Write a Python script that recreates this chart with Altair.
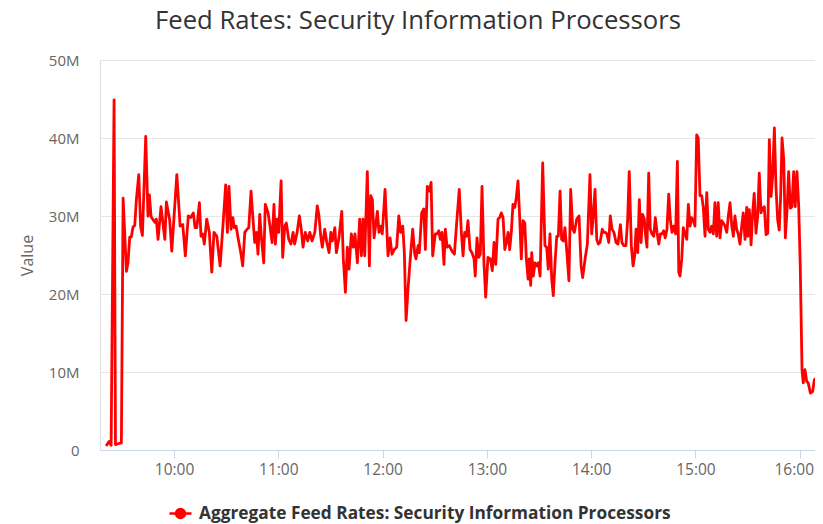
import altair as alt
import pandas as pd

title_text = "Feed Rates: Security Information Processors"
series_name = "Aggregate Feed Rates: Security Information Processors"
y_title = "Value"

# minutes after 09:00
minutes = [
    20.9, 22.6, 23.8, 25.5, 26.3, 27.8, 29.7, 30.7, 32.6, 33.5, 34.5, 35.4, 36.4, 37.4, 38.3, 39.7, 40.8, 41.8, 43.7, 45.0, 45.8, 46.8, 48.9, 49.8, 50.8, 52.5, 54.7, 55.6, 57.5,
    58.7, 61.6, 63.5, 65.0, 66.5, 68.2, 69.6, 71.1, 72.1, 73.1, 74.6, 75.5, 76.5, 77.4, 78.8, 80.3, 81.7, 83.0, 84.6, 86.5, 88.4, 89.7, 90.7, 91.6, 92.8, 93.8, 94.7, 95.7, 97.0, 98.4, 99.5,
    100.7, 102.0, 103.0, 104.3, 105.3, 106.4, 107.4, 108.3, 109.3, 110.2, 111.6, 112.5, 114.1, 115.2, 116.4, 117.5, 118.3, 119.3, 120.2, 121.6, 122.5, 123.7, 124.6, 126.0, 127.3, 128.5, 129.4, 130.8, 132.1, 133.2, 134.2, 135.5, 136.9, 138.1, 139.4, 141.0,
    142.4, 143.4, 144.4, 145.3, 146.7, 147.9, 149.2, 150.2, 151.1, 152.5, 153.4, 154.9, 156.5, 157.4, 158.6, 159.7, 160.7, 162.0, 163.2, 164.1, 165.5, 166.8, 167.8, 168.7, 169.7, 171.2, 172.4, 173.2, 174.1, 175.1, 177.0, 177.9, 178.9, 179.8, 181.4, 183.1,
    184.3, 185.4, 186.7, 188.1, 189.3, 190.4, 191.6, 192.5, 193.5, 194.6, 195.9, 197.3, 198.5, 199.2, 200.4, 201.1, 202.5, 203.7, 204.6, 205.7, 206.9, 207.9, 208.8, 210.3, 211.3, 212.3, 213.2, 214.2, 215.3, 216.1, 217.1, 218.4, 219.9, 221.3, 222.6, 224.1,
    225.3, 226.3, 227.2, 228.2, 229.1, 230.3, 231.4, 232.6, 233.3, 234.3, 235.3, 236.2, 237.2, 238.3, 239.3, 240.6, 242.0, 243.1, 244.1, 245.1, 246.4, 247.4, 248.3, 249.3, 250.3, 251.2, 252.2, 253.1, 254.1, 255.0, 256.0, 256.9, 257.9, 258.9, 259.8, 260.8, 261.8, 262.7, 263.7, 264.4, 265.2,
    265.8, 266.7, 267.7, 268.7, 269.6, 270.6, 272.1, 273.4, 274.4, 275.3, 276.3, 277.3, 278.2, 279.2, 280.2, 281.1, 282.1, 283.0, 284.0, 284.9, 285.9, 287.2, 288.2, 289.4, 290.3, 291.7, 293.0, 294.2, 295.1, 296.5, 297.8, 299.3, 300.3, 301.2, 302.2, 303.2, 304.1, 305.1, 306.4,
    307.2, 308.1, 309.1, 310.1, 311.0, 312.0, 313.1, 314.3, 315.4, 316.8, 317.7, 318.7, 320.0, 321.0, 321.9, 323.1, 324.1, 325.0, 325.8, 326.8, 327.7, 328.7, 329.6, 330.6, 331.1, 332.1, 333.1, 334.0, 335.0, 336.0, 336.9, 337.9, 338.9, 339.8, 340.8, 341.7, 342.6, 343.6, 344.6, 345.5, 346.5, 347.5,
    348.6, 349.6, 350.4, 351.1, 352.1, 353.0, 354.0, 355.0, 355.9, 356.9, 357.8, 358.8, 359.7, 360.7, 361.6, 362.6, 363.6, 364.5, 365.5, 366.5, 367.4, 368.4, 369.3, 370.3, 371.2, 372.2, 373.1, 374.1, 375.1, 376.0, 377.0, 378.0, 378.9, 379.9, 380.9, 381.8, 382.7, 383.7, 384.6, 385.6, 386.6, 387.5, 388.5, 389.5,
    390.1, 391.0, 392.0, 392.9, 393.8, 394.8, 395.8, 396.7, 397.7, 398.7, 399.6, 400.6, 401.6, 402.5, 403.5, 404.4, 405.4, 406.3, 407.3, 408.2, 409.0, 409.8, 410.8, 411.7, 412.7, 413.6, 414.6, 415.5, 416.5, 417.4, 418.4, 419.4, 420.3, 421.3, 422.0, 423.0, 424.0, 424.9, 426.1, 427.4, 428.4, 429.4,
]

# values in millions
values_m = [
    0.5, 1.1, 0.6, 44.9, 0.7, 0.8, 0.9, 32.3, 22.9, 24.0, 27.3, 27.3, 28.6, 28.8, 32.0, 35.3, 28.6, 27.5, 40.2, 30.0, 32.7, 29.9, 29.2, 29.6, 27.0, 31.2, 27.0, 31.8, 29.5,
    25.5, 35.3, 28.7, 28.9, 24.9, 30.0, 29.8, 30.4, 28.5, 28.5, 31.7, 27.4, 27.7, 26.4, 29.6, 27.9, 22.8, 27.9, 27.4, 23.6, 29.6, 34.0, 27.9, 33.8, 28.3, 29.8, 28.5, 28.7, 27.0, 25.3, 23.6,
    27.9, 28.3, 28.5, 33.2, 30.0, 26.6, 27.9, 25.1, 30.2, 27.4, 24.0, 31.5, 30.4, 28.7, 26.6, 31.5, 26.4, 29.6, 27.9, 34.5, 24.7, 28.7, 29.1, 27.0, 26.4, 27.9, 26.4, 27.9, 30.0, 28.3, 26.0, 27.9, 26.8, 27.9, 26.8, 27.9,
    31.3, 30.0, 27.4, 26.0, 28.3, 26.6, 25.3, 27.9, 26.8, 28.5, 25.3, 27.2, 30.6, 24.5, 20.2, 26.0, 23.2, 27.7, 26.0, 27.7, 24.0, 29.6, 24.9, 29.6, 24.9, 35.7, 23.6, 32.6, 32.1, 27.2, 30.6, 27.9, 28.7, 27.7, 33.4, 24.9,
    27.2, 25.1, 25.7, 26.0, 30.0, 27.9, 28.7, 25.3, 16.6, 20.6, 24.5, 28.3, 25.1, 24.5, 26.2, 25.3, 30.4, 30.9, 25.7, 33.8, 33.2, 34.3, 24.9, 27.7, 27.7, 28.1, 27.0, 27.9, 23.8, 28.3, 26.0, 26.2, 25.5, 25.1, 29.1, 33.4,
    27.9, 24.9, 27.9, 27.4, 29.4, 25.7, 25.3, 24.5, 22.3, 27.2, 24.7, 25.1, 33.8, 24.0, 19.6, 24.7, 24.5, 23.0, 26.6, 23.8, 29.6, 29.8, 30.4, 29.8, 25.7, 26.6, 27.9, 25.7, 28.1, 31.5, 31.1, 32.3, 34.5, 29.6, 24.5, 29.4, 29.1, 24.5, 21.9, 24.5, 21.1,
    25.3, 22.3, 24.0, 23.6, 24.0, 22.3, 36.8, 26.2, 26.0, 23.2, 27.7, 21.9, 19.8, 24.0, 27.4, 27.4, 33.2, 27.0, 26.8, 28.5, 25.7, 21.7, 33.4, 28.3, 27.9, 29.6, 30.0, 23.6, 22.1, 24.5, 26.4, 35.3, 27.7, 30.0, 33.4, 27.0, 26.4, 26.6, 28.3,
    27.9, 27.9, 27.7, 26.6, 30.0, 28.3, 27.9, 26.6, 26.4, 28.9, 26.6, 26.2, 26.2, 29.6, 35.7, 26.2, 23.6, 24.9, 28.3, 25.3, 32.1, 26.6, 30.2, 29.6, 27.9, 26.0, 35.5, 28.3, 27.7, 27.4, 29.8, 27.9, 26.4, 27.7, 27.7, 28.1, 27.2, 28.3, 32.8, 29.6, 27.9, 28.7,
    27.7, 37.0, 22.8, 22.3, 24.5, 28.5, 27.7, 27.0, 31.5, 28.7, 29.8, 29.4, 28.7, 40.4, 40.0, 32.6, 32.6, 31.1, 27.4, 33.0, 28.3, 27.9, 28.7, 27.7, 31.7, 27.4, 31.7, 27.2, 29.4, 29.1, 28.7, 27.9, 30.0, 31.7, 28.7, 27.4, 30.0, 28.3, 27.7, 26.4, 28.7, 30.4, 27.0, 31.1,
    27.4, 30.8, 26.3, 30.4, 32.9, 27.8, 30.0, 35.5, 30.4, 31.0, 31.2, 27.6, 27.8, 39.8, 32.5, 35.1, 41.3, 33.8, 29.5, 28.2, 32.5, 40.0, 37.2, 27.2, 30.8, 35.7, 31.0, 31.2, 35.7, 31.2, 35.7, 31.2, 23.5, 10.3, 8.6, 10.3, 8.8, 8.6, 7.3, 7.5, 9.0, 9.2,
]

y_ticks_m = [0, 10, 20, 30, 40, 50]
x_tick_hours = [10, 11, 12, 13, 14, 15, 16]

assert len(minutes) == len(values_m)

base = pd.Timestamp("2024-01-02 09:00:00")
df = pd.DataFrame({
    "time": [(base + pd.Timedelta(seconds=round(m * 60))).strftime("%Y-%m-%dT%H:%M:%S") for m in minutes],
    "value": [v * 1e6 for v in values_m],
    "series": [series_name] * len(minutes),
})

FONT = "Open Sans"

def dt(h, mi=0, s=0):
    return alt.DateTime(year=2024, month=1, date=2, hours=h, minutes=mi, seconds=s)

legend_symbol = "M-1,0L1,0M0.4,0A0.4,0.4,0,1,1,-0.4,0A0.4,0.4,0,1,1,0.4,0Z"

chart = alt.Chart(df).mark_line(strokeWidth=2.8, strokeJoin="round").encode(
    x=alt.X(
        "time:T",
        scale=alt.Scale(domain=[dt(9, 17, 24), dt(16, 12, 48)], nice=False),
        axis=alt.Axis(
            values=[dt(h) for h in x_tick_hours],
            format="%H:%M",
            title=None,
            grid=False,
            domainColor="#ccd6eb",
            tickColor="#ccd6eb",
            tickSize=8,
            labelPadding=4,
            labelFont=FONT,
            labelFontSize=15.5,
            labelColor="#666666",
            labelOffset={"condition": {"test": "hours(datum.value) == 16", "value": -6}, "value": 0},
        ),
    ),
    y=alt.Y(
        "value:Q",
        scale=alt.Scale(domain=[0, 50e6], nice=False),
        axis=alt.Axis(
            values=[v * 1e6 for v in y_ticks_m],
            labelExpr="datum.value == 0 ? '0' : (datum.value / 1000000) + 'M'",
            title=y_title,
            titleFont=FONT,
            titleFontSize=16,
            titleFontWeight="normal",
            titleColor="#666666",
            titleX=-73,
            titleY=195,
            titleAngle=-90,
            titleAlign="center",
            titleBaseline="middle",
            grid=True,
            gridColor="#e6e6e6",
            domain=False,
            ticks=False,
            labelPadding=21,
            labelFont=FONT,
            labelFontSize=15,
            labelColor="#666666",
        ),
    ),
    color=alt.Color(
        "series:N",
        scale=alt.Scale(range=["#ff0000"]),
        legend=alt.Legend(
            title=None,
            orient="none",
            legendX=68,
            legendY=441,
            padding=0,
            symbolType=legend_symbol,
            symbolSize=484,
            symbolStrokeWidth=2.6,
            symbolFillColor="#ff0000",
            symbolStrokeColor="#ff0000",
            labelFont=FONT,
            labelFontSize=17.3,
            labelFontWeight="bold",
            labelColor="#333333",
            labelLimit=1000,
            labelOffset=6,
        ),
    ),
).properties(
    width=722,
    height=390,
    autosize=alt.AutoSizeParams(type="none"),
    padding={"left": 92, "top": 52, "right": -7, "bottom": 74},
    title=alt.TitleParams(
        text=title_text,
        font=FONT,
        fontSize=25.7,
        fontWeight="normal",
        color="#333333",
        anchor="middle",
        dx=-43,
        offset=18,
    ),
).configure_view(stroke=None).configure(background="white")

chart.save("out.html", embed_options={"renderer": "svg", "actions": False})
